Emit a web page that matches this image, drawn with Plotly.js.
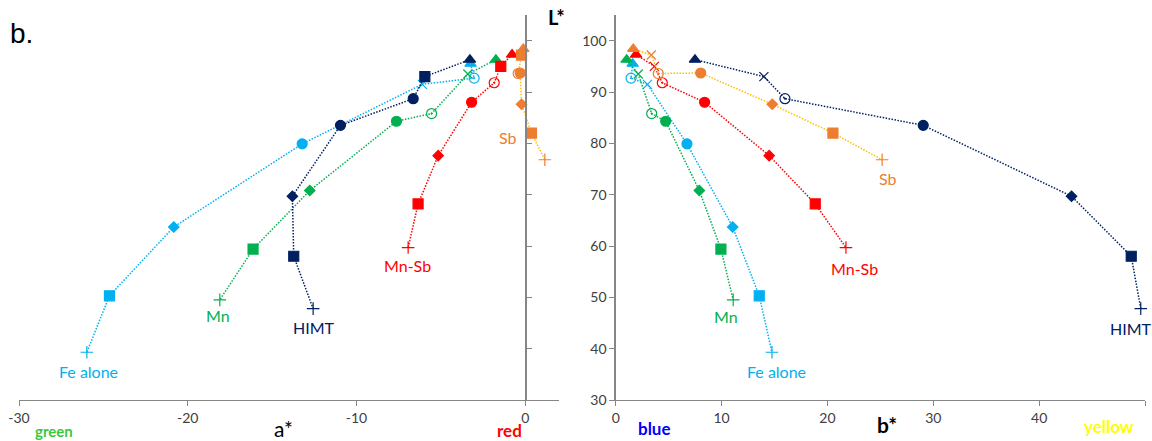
<!DOCTYPE html>
<html><head><meta charset="utf-8">
<script src="https://cdn.plot.ly/plotly-3.0.1.min.js"></script>
<style>html,body{margin:0;padding:0;background:#fff}#chart{width:1152px;height:441px}</style>
</head><body><div id="chart"></div>
<script>
// Series names
const seriesNames = ['Fe alone', 'Mn', 'HIMT', 'Mn-Sb', 'Sb'];
// L* values (shared by both panels)
const L_fe   = [95.5, 92.7, 91.5, 79.9, 63.7, 50.3, 39.3];
const L_mn   = [96.3, 93.5, 85.8, 84.3, 70.8, 59.4, 49.5];
const L_himt = [96.3, 93.0, 88.7, 83.5, 69.7, 58.0, 47.8];
const L_mnsb = [97.3, 95.0, 91.8, 88.0, 77.6, 68.2, 59.7];
const L_sb   = [98.4, 97.2, 93.6, 93.7, 87.6, 82.0, 76.8];
// a* values (left panel)
const A_fe   = [-3.24, -3.03, -6.1, -13.22, -20.83, -24.64, -25.98];
const A_mn   = [-1.74, -3.4, -5.55, -7.63, -12.77, -16.13, -18.1];
const A_himt = [-3.28, -5.95, -6.64, -10.95, -13.8, -13.72, -12.57];
const A_mnsb = [-0.78, -1.45, -1.84, -3.18, -5.16, -6.35, -6.94];
const A_sb   = [-0.12, -0.22, -0.42, -0.3, -0.22, 0.37, 1.16];
// b* values (right panel)
const B_fe   = [1.6, 1.45, 3.0, 6.73, 11.05, 13.56, 14.76];
const B_mn   = [1.04, 2.13, 3.4, 4.72, 7.9, 9.94, 11.1];
const B_himt = [7.49, 14.0, 15.99, 29.05, 43.06, 48.7, 49.6];
const B_mnsb = [1.92, 3.65, 4.4, 8.4, 14.5, 18.85, 21.75];
const B_sb   = [1.66, 3.36, 4.02, 8.03, 14.79, 20.52, 25.17];
// Axis tick values
const xTicksA = [-30, -20, -10, 0];
const xTicksB = [0, 10, 20, 30, 40, 50];
const yTicks  = [30, 40, 50, 60, 70, 80, 90, 100];

// styles
const colors = {fe:'#00B0F0', mn:'#00B050', himt:'#002060', mnsb:'#FF0000', sb:'#ED7D31'};
const lineColors = {fe:'#00B0F0', mn:'#00B050', himt:'#002060', mnsb:'#FF0000', sb:'#FFC000'};
const symStd = ['triangle-up','x-thin','circle-open-dot','circle','diamond','square','cross-thin'];
const symFe  = ['triangle-up','circle-open-dot','x-thin','circle','diamond','square','cross-thin'];
const symLeft = {
  fe: symFe, mn: symStd,
  himt: ['triangle-up','square','circle','circle','diamond','square','cross-thin'],
  mnsb: ['triangle-up','square','circle-open-dot','circle','diamond','square','cross-thin'],
  sb:   ['triangle-up','square','circle-open-dot','circle','diamond','square','cross-thin']
};
const symRight = {fe: symFe, mn: symStd, himt: symStd, mnsb: symStd, sb: symStd};
const sizeFor = s => s === 'diamond' ? 8 : (s === 'cross-thin' ? 9 : (s==='x-thin'?9:10));

const data = {
  fe:{L:L_fe, A:A_fe, B:B_fe}, mn:{L:L_mn, A:A_mn, B:B_mn}, himt:{L:L_himt, A:A_himt, B:B_himt},
  mnsb:{L:L_mnsb, A:A_mnsb, B:B_mnsb}, sb:{L:L_sb, A:A_sb, B:B_sb}
};
const keys = ['fe','mn','himt','mnsb','sb'];
const traces = [];
keys.forEach((k,i) => {
  const d = data[k];
  [['A','x','y',symLeft[k]],['B','x2','y2',symRight[k]]].forEach(([c,xa,ya,syms]) => {
    traces.push({
      type:'scatter', mode:'lines+markers', name: seriesNames[i], showlegend:false,
      x: d[c], y: d.L, xaxis: xa, yaxis: ya,
      line: {color: lineColors[k], width: 1.5, dash: '1.5px,1.5px'},
      marker: {symbol: syms, size: syms.map(sizeFor), color: colors[k], opacity: 1,
               line: {color: colors[k], width: 1.2}},
      cliponaxis: false
    });
  });
});

const font = 'Lato, "Open Sans", sans-serif';
const axisCommon = {showgrid:false, zeroline:false, showline:true, linecolor:'#868686', linewidth:1.3,
  ticks:'outside', ticklen:5, tickcolor:'#868686', tickfont:{family:font, size:14, color:'#404040'}};

const W = 1152, ml = 19, mr = 7, mt = 15, mb = 41;
const pw = W - ml - mr, ph = 441 - mt - mb;
const px = p => (p - ml) / pw;
const py = p => (441 - mb - p) / ph;

const ann = (text, x, y, opts={}) => Object.assign({text, x, y, xref:'paper', yref:'paper', showarrow:false,
  xanchor:'center', yanchor:'middle', font:{family:font, size:16}}, opts);
const dann = (text, x, y, xr, yr, color) => ({text, x, y, xref:xr, yref:yr, showarrow:false,
  xanchor:'center', yanchor:'middle', font:{family:font, size:16, color}});

const layout = {
  width: W, height: 441, margin:{l:ml, r:mr, t:mt, b:mb}, paper_bgcolor:'#fff', plot_bgcolor:'rgba(0,0,0,0)',
  showlegend:false,
  xaxis: Object.assign({}, axisCommon, {domain:[0, px(559)], range:[-30, 2], tickvals:xTicksA,
          ticktext: xTicksA.map(v => String(v)), anchor:'y'}),
  yaxis: Object.assign({}, axisCommon, {range:[30,105], tickvals:yTicks, showticklabels:false,
          anchor:'free', position: px(525.4), side:'right'}),
  xaxis2: Object.assign({}, axisCommon, {domain:[px(615.7), 1], range:[0, 50], tickvals:xTicksB, anchor:'y2'}),
  yaxis2: Object.assign({}, axisCommon, {range:[30,105], tickvals:yTicks, anchor:'x2'}),
  annotations: [
    ann('b.', px(21), py(33), {font:{family:'Liberation Sans, Arial, sans-serif', size:28, color:'#000'}}),
    ann('<b>L*</b>', px(556), py(17), {font:{family:font, size:20, color:'#000'}}),
    ann('a*', px(283), py(428), {font:{family:font, size:21, color:'#000'}}),
    ann('<b>green</b>', px(54), py(431), {font:{family:font, size:15, color:'#3CC83C'}}),
    ann('<b>red</b>', px(509), py(431), {font:{family:font, size:17, color:'#FF0000'}}),
    ann('<b>blue</b>', px(654), py(429), {font:{family:font, size:17, color:'#0000FF'}}),
    ann('<b>b*</b>', px(887), py(424), {font:{family:font, size:21, color:'#000'}}),
    ann('<b>yellow</b>', px(1109), py(426), {font:{family:font, size:17, color:'#FFFF00'}}),
    dann('Fe alone', -25.9, 35.5, 'x', 'y', colors.fe),
    dann('Mn', -18.2, 46.4, 'x', 'y', colors.mn),
    dann('HIMT', -12.5, 44.1, 'x', 'y', colors.himt),
    dann('Mn-Sb', -7.0, 56.2, 'x', 'y', colors.mnsb),
    dann('Sb', -1.0, 81.1, 'x', 'y', colors.sb),
    dann('Mn', 10.4, 46.3, 'x2', 'y2', colors.mn),
    dann('Fe alone', 15.2, 35.6, 'x2', 'y2', colors.fe),
    dann('Mn-Sb', 22.6, 55.6, 'x2', 'y2', colors.mnsb),
    dann('Sb', 25.7, 73.1, 'x2', 'y2', colors.sb),
    dann('HIMT', 48.7, 43.9, 'x2', 'y2', colors.himt)
  ]
};
Plotly.newPlot('chart', traces, layout, {staticPlot:true, displayModeBar:false});
</script></body></html>
